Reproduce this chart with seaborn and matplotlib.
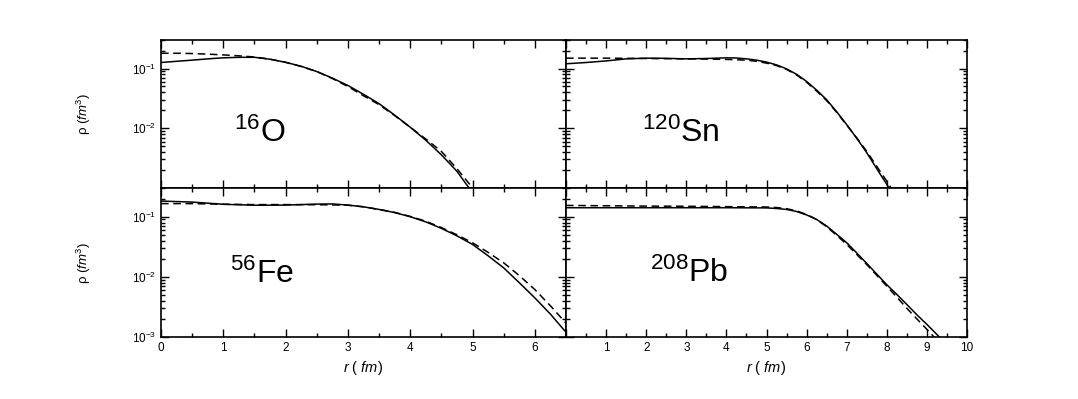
import numpy as np
import pandas as pd
import seaborn as sns
import matplotlib.pyplot as plt
from matplotlib.ticker import LogLocator, NullFormatter, MultipleLocator

# density profiles (solid = model, dashed = reference)
r_o = [0, 0.25, 0.5, 0.75, 1, 1.25, 1.5, 1.75, 2, 2.25, 2.5, 2.75, 3, 3.25, 3.5,
       3.75, 4, 4.25, 4.5, 4.75, 5, 5.25]
o_solid = [0.126, 0.132, 0.138, 0.145, 0.151, 0.154, 0.154, 0.143, 0.127, 0.109, 0.089,
           0.069, 0.052, 0.037, 0.0258, 0.0166, 0.0104, 0.0063, 0.0036, 0.0019, 0.00083, 0.0004]
o_dash = [0.180, 0.180, 0.178, 0.174, 0.169, 0.163, 0.156, 0.143, 0.127, 0.108, 0.089,
          0.068, 0.050, 0.035, 0.0248, 0.0163, 0.0104, 0.0066, 0.0041, 0.0021, 0.00101, 0.0005]

r_sn = [0, 0.5, 1, 1.5, 2, 2.5, 3, 3.5, 4, 4.25, 4.5, 4.75, 5, 5.25, 5.5, 5.75, 6,
        6.25, 6.5, 6.75, 7, 7.25, 7.5, 7.75, 8, 8.25]
sn_solid = [0.120, 0.126, 0.134, 0.145, 0.149, 0.148, 0.145, 0.147, 0.151, 0.150, 0.145,
            0.138, 0.128, 0.115, 0.0987, 0.080, 0.0607, 0.0435, 0.030, 0.0189, 0.0115,
            0.0068, 0.0039, 0.0021, 0.00115, 0.0006]
sn_dash = [0.149, 0.149, 0.149, 0.148, 0.147, 0.146, 0.145, 0.144, 0.142, 0.140, 0.138,
           0.132, 0.123, 0.112, 0.0967, 0.078, 0.059, 0.042, 0.029, 0.0185, 0.0113,
           0.0069, 0.0041, 0.0023, 0.0013, 0.0007]

r_fe = [0, 0.5, 1, 1.5, 2, 2.5, 2.75, 3, 3.25, 3.5, 3.75, 4, 4.25, 4.5, 4.75, 5, 5.25,
        5.5, 5.75, 6, 6.25, 6.5, 6.75]
fe_solid = [0.182, 0.175, 0.161, 0.155, 0.156, 0.162, 0.163, 0.156, 0.146, 0.132, 0.117,
            0.100, 0.082, 0.064, 0.048, 0.0346, 0.0224, 0.0141, 0.0080, 0.00447, 0.0024,
            0.0012, 0.0006]
fe_dash = [0.165, 0.165, 0.161, 0.159, 0.159, 0.158, 0.157, 0.155, 0.146, 0.132, 0.118,
           0.101, 0.084, 0.066, 0.050, 0.0369, 0.0255, 0.0171, 0.0105, 0.00615, 0.0033,
           0.0017, 0.0009]

r_pb = [0, 1, 2, 3, 4, 5, 5.25, 5.5, 5.75, 6, 6.25, 6.5, 6.75, 7, 7.25, 7.5, 7.75, 8,
        8.25, 8.5, 8.75, 9, 9.25, 9.5]
pb_solid = [0.141, 0.141, 0.141, 0.141, 0.141, 0.140, 0.137, 0.132, 0.122, 0.107, 0.090,
            0.070, 0.051, 0.0369, 0.025, 0.0167, 0.0111, 0.0074, 0.0051, 0.00347, 0.00234,
            0.00162, 0.0011, 0.00074]
pb_dash = [0.154, 0.152, 0.150, 0.149, 0.147, 0.145, 0.142, 0.136, 0.125, 0.109, 0.090,
           0.068, 0.049, 0.0346, 0.0236, 0.016, 0.0106, 0.0070, 0.0046, 0.0030, 0.0020,
           0.00134, 0.00089, 0.0006]

sns.set_style("ticks")
plt.rcParams['font.family'] = ['Liberation Sans', 'DejaVu Sans']
plt.rcParams['mathtext.fontset'] = 'custom'
plt.rcParams['mathtext.rm'] = 'Liberation Sans'
plt.rcParams['mathtext.it'] = 'Liberation Sans:italic'
for k in ['text.color', 'axes.labelcolor', 'xtick.color', 'ytick.color', 'axes.edgecolor']:
    plt.rcParams[k] = 'black'

fig = plt.figure(figsize=(10.78, 3.99), dpi=100)

x0, xm, x1 = 161 / 1078, 566 / 1078, 967 / 1078
yb, ym, yt = 1 - 337 / 399, 1 - 188 / 399, 1 - 40 / 399

panels = [
    # (rect, r, solid, dashed, xmax, label, label pos)
    ([x0, ym, xm - x0, yt - ym], r_o, o_solid, o_dash, 6.5, r'$^{16}$O', (0.18, 0.37)),
    ([xm, ym, x1 - xm, yt - ym], r_sn, sn_solid, sn_dash, 10, r'$^{120}$Sn', (0.19, 0.37)),
    ([x0, yb, xm - x0, ym - yb], r_fe, fe_solid, fe_dash, 6.5, r'$^{56}$Fe', (0.17, 0.42)),
    ([xm, yb, x1 - xm, ym - yb], r_pb, pb_solid, pb_dash, 10, r'$^{208}$Pb', (0.21, 0.43)),
]

for i, (rect, r, sol, dsh, xmax, lab, pos) in enumerate(panels):
    ax = fig.add_axes(rect)
    df = pd.DataFrame({'r': r, 'solid': sol, 'dash': dsh})
    sns.lineplot(data=df, x='r', y='solid', ax=ax, color='black', lw=1.1)
    sns.lineplot(data=df, x='r', y='dash', ax=ax, color='black', lw=1.1,
                 linestyle=(0, (5, 3)))
    ax.set_yscale('log')
    ax.set_ylim(1e-3, 0.3)
    ax.set_xlim(0, xmax)
    ax.xaxis.set_major_locator(MultipleLocator(1))
    ax.xaxis.set_minor_locator(MultipleLocator(0.5))
    ax.yaxis.set_major_locator(LogLocator(base=10, numticks=10))
    ax.yaxis.set_minor_locator(LogLocator(base=10, subs=np.arange(2, 10), numticks=10))
    ax.yaxis.set_minor_formatter(NullFormatter())
    ax.tick_params(which='both', direction='in', top=True, right=True, width=1)
    ax.tick_params(which='major', length=6, labelsize=8.5)
    ax.tick_params(which='minor', length=3)
    for s in ax.spines.values():
        s.set_linewidth(1.2)
    ax.set_xlabel('')
    ax.set_ylabel('')
    ax.text(pos[0], pos[1], lab, transform=ax.transAxes, fontsize=23,
            ha='left', va='center')

    if i % 2 == 0:
        ax.set_ylabel(r'ρ ($fm^3$)', fontsize=9.5, labelpad=28)
        if i == 0:
            ax.set_yticks([1e-2, 1e-1])
    else:
        ax.tick_params(axis='y', labelleft=False)

    if i < 2:
        ax.tick_params(axis='x', labelbottom=False)
    else:
        ax.set_xlabel(r'$r\ (\ fm)$', fontsize=10.5)
        if xmax == 10:
            ax.set_xticks(range(11))
            ax.set_xticklabels([''] + [str(k) for k in range(1, 11)])

plt.savefig('out.png', dpi=100)
